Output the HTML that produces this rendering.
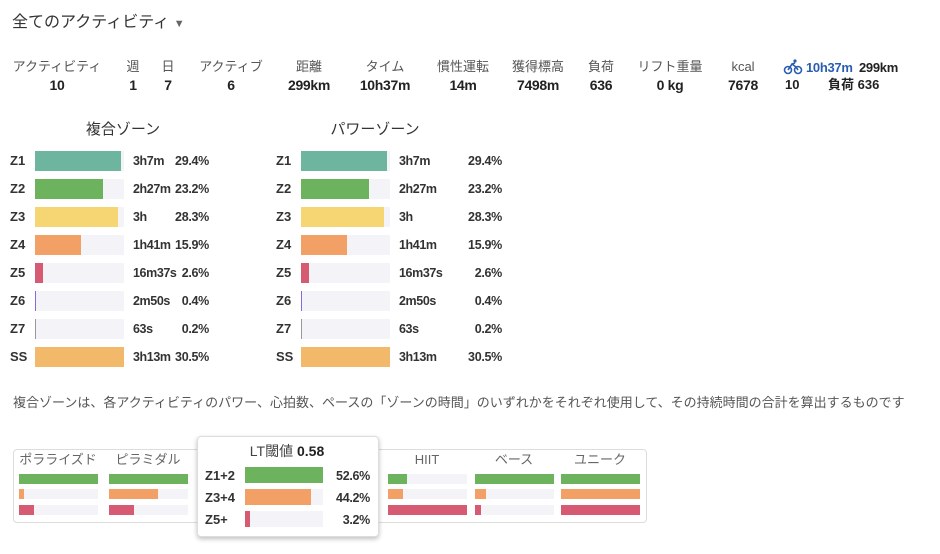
<!DOCTYPE html>
<html><head><meta charset="utf-8"><style>
body{margin:0;width:940px;height:554px;background:#fff;position:relative;overflow:hidden;font-family:"Liberation Sans","Noto Sans CJK JP",sans-serif;color:#222}
.a{position:absolute;white-space:nowrap;line-height:16px}
.c{transform:translateX(-50%)}
.lab{font-size:13px;color:#555;top:59px}
.val{font-size:14px;font-weight:bold;top:77px;letter-spacing:-0.3px}
.zl{font-size:13px;font-weight:bold;color:#333}
.tr{position:absolute;background:#f3f3f8;height:20px}
.f{position:absolute;left:0;top:0;height:20px}
.zt{font-size:12.5px;font-weight:bold;color:#333;letter-spacing:-0.4px}
.zp{font-size:12.5px;font-weight:bold;color:#333;text-align:right;width:60px;letter-spacing:-0.3px}
.st{position:absolute;background:#f3f3f8;height:10px;width:79px}
.st div{position:absolute;left:0;top:0;height:10px}
.g{background:#6db35d}.o{background:#f2a065}.r{background:#d65a72}
.ct{font-size:13px;color:#666;top:452px}
</style></head><body>
<div class="a" style="left:12px;top:15px;font-size:16px;color:#333">全てのアクティビティ <span style="font-size:11px;color:#666">▼</span></div>

<div class="a lab c" style="left:57px">アクティビティ</div><div class="a val c" style="left:57px">10</div>
<div class="a lab c" style="left:133px">週</div><div class="a val c" style="left:133px">1</div>
<div class="a lab c" style="left:168px">日</div><div class="a val c" style="left:168px">7</div>
<div class="a lab c" style="left:231px">アクティブ</div><div class="a val c" style="left:231px">6</div>
<div class="a lab c" style="left:309px">距離</div><div class="a val c" style="left:309px">299km</div>
<div class="a lab c" style="left:385px">タイム</div><div class="a val c" style="left:385px">10h37m</div>
<div class="a lab c" style="left:463px">慣性運転</div><div class="a val c" style="left:463px">14m</div>
<div class="a lab c" style="left:538px">獲得標高</div><div class="a val c" style="left:538px">7498m</div>
<div class="a lab c" style="left:601px">負荷</div><div class="a val c" style="left:601px">636</div>
<div class="a lab c" style="left:670px">リフト重量</div><div class="a val c" style="left:670px">0 kg</div>
<div class="a lab c" style="left:743px">kcal</div><div class="a val c" style="left:743px">7678</div>
<svg class="a" style="left:783px;top:59px" width="20" height="16" viewBox="0 0 20 16"><circle cx="5" cy="11" r="3.5" fill="none" stroke="#2a5db0" stroke-width="1.6"/><circle cx="15" cy="11" r="3.5" fill="none" stroke="#2a5db0" stroke-width="1.6"/><path d="M5 11 L9 5 L13 8 L15 11 M9 5 L12 4" fill="none" stroke="#2a5db0" stroke-width="1.6"/><circle cx="12" cy="2" r="1.6" fill="#2a5db0"/></svg>
<div class="a" style="left:806px;top:60px;font-size:13px;font-weight:bold;color:#2a5db0;letter-spacing:-0.3px">10h37m</div>
<div class="a" style="left:859px;top:60px;font-size:13px;font-weight:bold;letter-spacing:-0.3px">299km</div>
<div class="a" style="left:785px;top:77px;font-size:13px;font-weight:bold">10</div>
<div class="a" style="left:828px;top:77px;font-size:13px;font-weight:bold">負荷 636</div>

<div class="a c" style="left:123px;top:122px;font-size:15px;color:#333">複合ゾーン</div>
<div class="a c" style="left:375px;top:122px;font-size:15px;color:#333">パワーゾーン</div>

<!-- left -->
<div class="a zl" style="left:10px;top:153px">Z1</div><div class="tr" style="left:35px;top:151px;width:89px"><div class="f" style="width:86px;background:#6eb5a0"></div></div><div class="a zt" style="left:133px;top:153px">3h7m</div><div class="a zp" style="left:149px;top:153px">29.4%</div>
<div class="a zl" style="left:10px;top:181px">Z2</div><div class="tr" style="left:35px;top:179px;width:89px"><div class="f" style="width:68px;background:#6db35d"></div></div><div class="a zt" style="left:133px;top:181px">2h27m</div><div class="a zp" style="left:149px;top:181px">23.2%</div>
<div class="a zl" style="left:10px;top:209px">Z3</div><div class="tr" style="left:35px;top:207px;width:89px"><div class="f" style="width:83px;background:#f5d673"></div></div><div class="a zt" style="left:133px;top:209px">3h</div><div class="a zp" style="left:149px;top:209px">28.3%</div>
<div class="a zl" style="left:10px;top:237px">Z4</div><div class="tr" style="left:35px;top:235px;width:89px"><div class="f" style="width:46px;background:#f2a065"></div></div><div class="a zt" style="left:133px;top:237px">1h41m</div><div class="a zp" style="left:149px;top:237px">15.9%</div>
<div class="a zl" style="left:10px;top:265px">Z5</div><div class="tr" style="left:35px;top:263px;width:89px"><div class="f" style="width:8px;background:#d65a72"></div></div><div class="a zt" style="left:133px;top:265px">16m37s</div><div class="a zp" style="left:149px;top:265px">2.6%</div>
<div class="a zl" style="left:10px;top:293px">Z6</div><div class="tr" style="left:35px;top:291px;width:89px"><div class="f" style="width:1px;background:#8a6ad8"></div></div><div class="a zt" style="left:133px;top:293px">2m50s</div><div class="a zp" style="left:149px;top:293px">0.4%</div>
<div class="a zl" style="left:10px;top:321px">Z7</div><div class="tr" style="left:35px;top:319px;width:89px"><div class="f" style="width:1px;background:#999"></div></div><div class="a zt" style="left:133px;top:321px">63s</div><div class="a zp" style="left:149px;top:321px">0.2%</div>
<div class="a zl" style="left:10px;top:349px">SS</div><div class="tr" style="left:35px;top:347px;width:89px"><div class="f" style="width:89px;background:#f2b96a"></div></div><div class="a zt" style="left:133px;top:349px">3h13m</div><div class="a zp" style="left:149px;top:349px">30.5%</div>
<!-- right -->
<div class="a zl" style="left:276px;top:153px">Z1</div><div class="tr" style="left:301px;top:151px;width:89px"><div class="f" style="width:86px;background:#6eb5a0"></div></div><div class="a zt" style="left:399px;top:153px">3h7m</div><div class="a zp" style="left:442px;top:153px">29.4%</div>
<div class="a zl" style="left:276px;top:181px">Z2</div><div class="tr" style="left:301px;top:179px;width:89px"><div class="f" style="width:68px;background:#6db35d"></div></div><div class="a zt" style="left:399px;top:181px">2h27m</div><div class="a zp" style="left:442px;top:181px">23.2%</div>
<div class="a zl" style="left:276px;top:209px">Z3</div><div class="tr" style="left:301px;top:207px;width:89px"><div class="f" style="width:83px;background:#f5d673"></div></div><div class="a zt" style="left:399px;top:209px">3h</div><div class="a zp" style="left:442px;top:209px">28.3%</div>
<div class="a zl" style="left:276px;top:237px">Z4</div><div class="tr" style="left:301px;top:235px;width:89px"><div class="f" style="width:46px;background:#f2a065"></div></div><div class="a zt" style="left:399px;top:237px">1h41m</div><div class="a zp" style="left:442px;top:237px">15.9%</div>
<div class="a zl" style="left:276px;top:265px">Z5</div><div class="tr" style="left:301px;top:263px;width:89px"><div class="f" style="width:8px;background:#d65a72"></div></div><div class="a zt" style="left:399px;top:265px">16m37s</div><div class="a zp" style="left:442px;top:265px">2.6%</div>
<div class="a zl" style="left:276px;top:293px">Z6</div><div class="tr" style="left:301px;top:291px;width:89px"><div class="f" style="width:1px;background:#8a6ad8"></div></div><div class="a zt" style="left:399px;top:293px">2m50s</div><div class="a zp" style="left:442px;top:293px">0.4%</div>
<div class="a zl" style="left:276px;top:321px">Z7</div><div class="tr" style="left:301px;top:319px;width:89px"><div class="f" style="width:1px;background:#999"></div></div><div class="a zt" style="left:399px;top:321px">63s</div><div class="a zp" style="left:442px;top:321px">0.2%</div>
<div class="a zl" style="left:276px;top:349px">SS</div><div class="tr" style="left:301px;top:347px;width:89px"><div class="f" style="width:89px;background:#f2b96a"></div></div><div class="a zt" style="left:399px;top:349px">3h13m</div><div class="a zp" style="left:442px;top:349px">30.5%</div>

<div class="a" style="left:13px;top:395px;font-size:13px;color:#555">複合ゾーンは、各アクティビティのパワー、心拍数、ペースの「ゾーンの時間」のいずれかをそれぞれ使用して、その持続時間の合計を算出するものです</div>

<div class="a" style="left:13px;top:449px;width:632px;height:72px;border:1px solid #ddd;border-radius:4px"></div>
<div class="a ct c" style="left:58px">ポラライズド</div>
<div class="a ct c" style="left:148px">ピラミダル</div>
<div class="a ct c" style="left:427px">HIIT</div>
<div class="a ct c" style="left:514px">ベース</div>
<div class="a ct c" style="left:600px">ユニーク</div>
<div class="st" style="left:19px;top:474px"><div class="g" style="width:79px"></div></div>
<div class="st" style="left:19px;top:489px"><div class="o" style="width:5px"></div></div>
<div class="st" style="left:19px;top:505px"><div class="r" style="width:15px"></div></div>
<div class="st" style="left:109px;top:474px"><div class="g" style="width:79px"></div></div>
<div class="st" style="left:109px;top:489px"><div class="o" style="width:49px"></div></div>
<div class="st" style="left:109px;top:505px"><div class="r" style="width:25px"></div></div>
<div class="st" style="left:388px;top:474px"><div class="g" style="width:19px"></div></div>
<div class="st" style="left:388px;top:489px"><div class="o" style="width:15px"></div></div>
<div class="st" style="left:388px;top:505px"><div class="r" style="width:79px"></div></div>
<div class="st" style="left:475px;top:474px"><div class="g" style="width:79px"></div></div>
<div class="st" style="left:475px;top:489px"><div class="o" style="width:11px"></div></div>
<div class="st" style="left:475px;top:505px"><div class="r" style="width:6px"></div></div>
<div class="st" style="left:561px;top:474px"><div class="g" style="width:79px"></div></div>
<div class="st" style="left:561px;top:489px"><div class="o" style="width:79px"></div></div>
<div class="st" style="left:561px;top:505px"><div class="r" style="width:79px"></div></div>

<div class="a" style="left:197px;top:436px;width:180px;height:99px;background:#fff;border:1px solid #ddd;border-radius:4px;box-shadow:0 2px 5px rgba(0,0,0,0.25)"></div>
<div class="a c" style="left:287px;top:443px;font-size:14px;color:#444">LT閾値 <b style="color:#222">0.58</b></div>
<div class="a zl" style="left:205px;top:468px">Z1+2</div><div class="a" style="left:245px;top:467px;width:78px;height:16px;background:#f3f3f8"><div class="g" style="width:78px;height:16px"></div></div><div class="a zp" style="left:310px;top:468px">52.6%</div>
<div class="a zl" style="left:205px;top:490px">Z3+4</div><div class="a" style="left:245px;top:489px;width:78px;height:16px;background:#f3f3f8"><div class="o" style="width:66px;height:16px"></div></div><div class="a zp" style="left:310px;top:490px">44.2%</div>
<div class="a zl" style="left:205px;top:512px">Z5+</div><div class="a" style="left:245px;top:511px;width:78px;height:16px;background:#f3f3f8"><div class="r" style="width:5px;height:16px"></div></div><div class="a zp" style="left:310px;top:512px">3.2%</div>
</body></html>
